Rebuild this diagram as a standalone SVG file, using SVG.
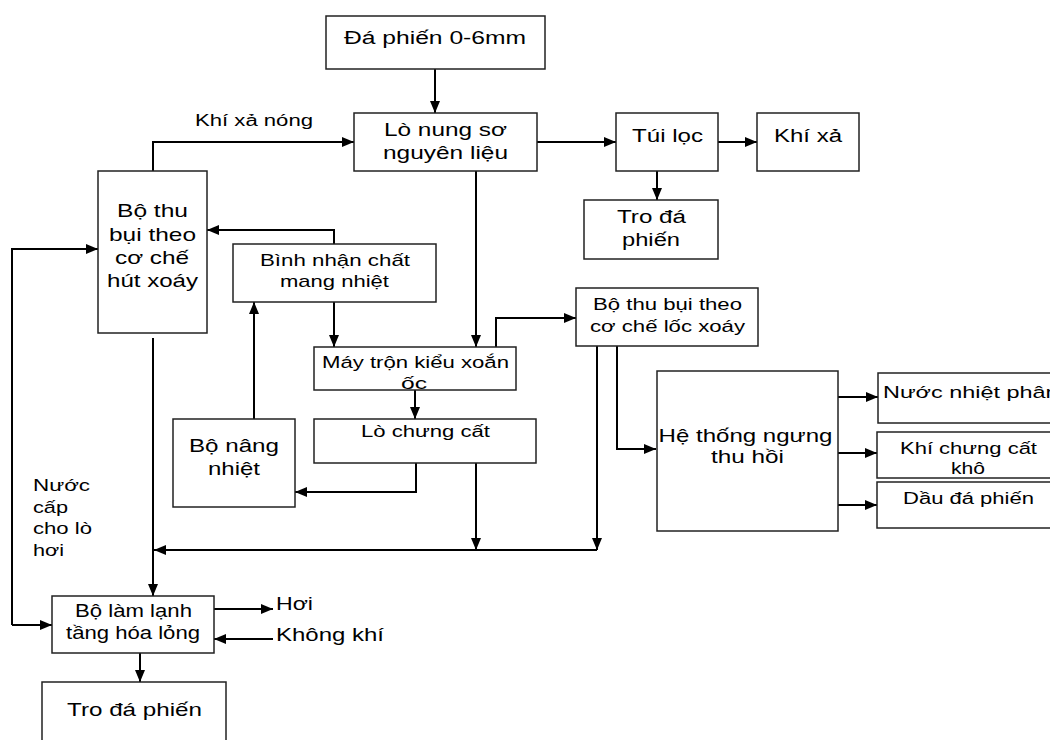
<svg xmlns="http://www.w3.org/2000/svg" width="1050" height="740" viewBox="0 0 1050 740">
<style>
.box{fill:#fff;stroke:#222;stroke-width:1.5}
.t{font-family:"Liberation Sans",Arial,sans-serif;fill:#000;text-anchor:middle}
.c{fill:none;stroke:#000;stroke-width:2}
</style>
<defs>
<marker id="ah" markerUnits="userSpaceOnUse" markerWidth="12" markerHeight="10" refX="12" refY="5" orient="auto">
<path d="M0,0 L12,5 L0,10 z" fill="#000"/>
</marker>
</defs>
<rect width="1050" height="740" fill="#fff"/>
<g id="connectors">
<path class="c" d="M435,69 V113" marker-end="url(#ah)"/>
<path class="c" d="M153,171 V142 H354" marker-end="url(#ah)"/>
<path class="c" d="M537,142 H616" marker-end="url(#ah)"/>
<path class="c" d="M718,142 H757" marker-end="url(#ah)"/>
<path class="c" d="M657,171 V200" marker-end="url(#ah)"/>
<path class="c" d="M334,244 V230 H207" marker-end="url(#ah)"/>
<path class="c" d="M12,625 V249 H98" marker-end="url(#ah)"/>
<path class="c" d="M12,625 H52" marker-end="url(#ah)"/>
<path class="c" d="M254,419 V302" marker-end="url(#ah)"/>
<path class="c" d="M334,302 V347" marker-end="url(#ah)"/>
<path class="c" d="M476,171 V347" marker-end="url(#ah)"/>
<path class="c" d="M496,347 V318 H576" marker-end="url(#ah)"/>
<path class="c" d="M415,390 V419" marker-end="url(#ah)"/>
<path class="c" d="M416,463 V492 H295" marker-end="url(#ah)"/>
<path class="c" d="M476,463 V550" marker-end="url(#ah)"/>
<path class="c" d="M597,346 V550" marker-end="url(#ah)"/>
<path class="c" d="M617,346 V449 H656" marker-end="url(#ah)"/>
<path class="c" d="M597,550 H154" marker-end="url(#ah)"/>
<path class="c" d="M153,338 V596" marker-end="url(#ah)"/>
<path class="c" d="M214,609 H273" marker-end="url(#ah)"/>
<path class="c" d="M273,639 H214" marker-end="url(#ah)"/>
<path class="c" d="M140,653 V682" marker-end="url(#ah)"/>
<path class="c" d="M838,397 H878" marker-end="url(#ah)"/>
<path class="c" d="M836,453 H877" marker-end="url(#ah)"/>
<path class="c" d="M836,505 H877" marker-end="url(#ah)"/>
</g>
<g id="n-da"><rect class="box" x="326" y="16" width="219" height="53"/>
<text class="t" x="435" y="44" font-size="18" textLength="182" lengthAdjust="spacingAndGlyphs">Đá phiến 0-6mm</text></g>
<g id="n-lonung"><rect class="box" x="354" y="113" width="183" height="58"/>
<text class="t" x="445.5" y="135.5" font-size="18" textLength="123" lengthAdjust="spacingAndGlyphs">Lò nung sơ</text>
<text class="t" x="445.5" y="159" font-size="18" textLength="125" lengthAdjust="spacingAndGlyphs">nguyên liệu</text></g>
<g id="n-tuiloc"><rect class="box" x="616" y="113" width="102" height="58"/>
<text class="t" x="667.5" y="141.5" font-size="18" textLength="71" lengthAdjust="spacingAndGlyphs">Túi lọc</text></g>
<g id="n-khixa"><rect class="box" x="757" y="113" width="102" height="58"/>
<text class="t" x="808" y="141.5" font-size="18" textLength="68" lengthAdjust="spacingAndGlyphs">Khí xả</text></g>
<g id="n-tro1"><rect class="box" x="584" y="200" width="134" height="59"/>
<text class="t" x="651.5" y="222.5" font-size="18" textLength="69" lengthAdjust="spacingAndGlyphs">Tro đá</text>
<text class="t" x="651" y="245.5" font-size="18" textLength="58" lengthAdjust="spacingAndGlyphs">phiến</text></g>
<g id="n-bothu"><rect class="box" x="98" y="171" width="109" height="162"/>
<text class="t" x="152.5" y="216.5" font-size="18.5" textLength="71" lengthAdjust="spacingAndGlyphs">Bộ thu</text>
<text class="t" x="152.5" y="240.5" font-size="18.5" textLength="87" lengthAdjust="spacingAndGlyphs">bụi theo</text>
<text class="t" x="152" y="263.5" font-size="18.5" textLength="74" lengthAdjust="spacingAndGlyphs">cơ chế</text>
<text class="t" x="152.5" y="287" font-size="18.5" textLength="91" lengthAdjust="spacingAndGlyphs">hút xoáy</text></g>
<g id="n-binh"><rect class="box" x="233" y="244" width="203" height="58"/>
<text class="t" x="335" y="265.5" font-size="17" textLength="150" lengthAdjust="spacingAndGlyphs">Bình nhận chất</text>
<text class="t" x="334.5" y="287" font-size="17" textLength="109" lengthAdjust="spacingAndGlyphs">mang nhiệt</text></g>
<g id="n-locxoay"><rect class="box" x="576" y="288" width="182" height="58"/>
<text class="t" x="667.5" y="309.5" font-size="16.5" textLength="149" lengthAdjust="spacingAndGlyphs">Bộ thu bụi theo</text>
<text class="t" x="667.5" y="331.5" font-size="16.5" textLength="155" lengthAdjust="spacingAndGlyphs">cơ chế lốc xoáy</text></g>
<g id="n-maytron"><rect class="box" x="314" y="347" width="202" height="43"/>
<text class="t" x="415.5" y="368" font-size="16.3" textLength="187" lengthAdjust="spacingAndGlyphs">Máy trộn kiểu xoắn</text>
<text class="t" x="414" y="388.5" font-size="16.3" textLength="26" lengthAdjust="spacingAndGlyphs">ốc</text></g>
<g id="n-lochung"><rect class="box" x="314" y="419" width="222" height="44"/>
<text class="t" x="425.5" y="436.5" font-size="16" textLength="129" lengthAdjust="spacingAndGlyphs">Lò chưng cất</text></g>
<g id="n-bonang"><rect class="box" x="173" y="419" width="122" height="88"/>
<text class="t" x="234" y="451.5" font-size="18.5" textLength="90" lengthAdjust="spacingAndGlyphs">Bộ nâng</text>
<text class="t" x="234" y="475" font-size="18.5" textLength="52" lengthAdjust="spacingAndGlyphs">nhiệt</text></g>
<g id="n-hethong"><rect class="box" x="657" y="371" width="181" height="160"/>
<text class="t" x="745.5" y="441.5" font-size="19" textLength="174" lengthAdjust="spacingAndGlyphs">Hệ thống ngưng</text>
<text class="t" x="747.5" y="463" font-size="19" textLength="73" lengthAdjust="spacingAndGlyphs">thu hồi</text></g>
<g id="n-nuoc"><rect class="box" x="878" y="373" width="190" height="50"/>
<text class="t" x="974" y="397.5" font-size="16.3" textLength="182" lengthAdjust="spacingAndGlyphs">Nước nhiệt phâm</text></g>
<g id="n-khichung"><rect class="box" x="877" y="432" width="190" height="46"/>
<text class="t" x="968.5" y="454" font-size="16.3" textLength="137" lengthAdjust="spacingAndGlyphs">Khí chưng cất</text>
<text class="t" x="968" y="473.5" font-size="16.3" textLength="34" lengthAdjust="spacingAndGlyphs">khô</text></g>
<g id="n-dau"><rect class="box" x="877" y="482" width="190" height="46"/>
<text class="t" x="968.5" y="504" font-size="16" textLength="131" lengthAdjust="spacingAndGlyphs">Dầu đá phiến</text></g>
<g id="n-bolam"><rect class="box" x="52" y="596" width="162" height="57"/>
<text class="t" x="133.5" y="616.5" font-size="17.5" textLength="117" lengthAdjust="spacingAndGlyphs">Bộ làm lạnh</text>
<text class="t" x="133" y="638.5" font-size="17.5" textLength="134" lengthAdjust="spacingAndGlyphs">tầng hóa lỏng</text></g>
<g id="n-tro2"><rect class="box" x="42" y="682" width="184" height="70"/>
<text class="t" x="134.5" y="715.5" font-size="19" textLength="135" lengthAdjust="spacingAndGlyphs">Tro đá phiến</text></g>
<g id="labels">
<text class="t" x="254" y="125.5" font-size="16" textLength="118" lengthAdjust="spacingAndGlyphs">Khí xả nóng</text>
<text class="t" style="text-anchor:start" x="33" y="491" font-size="16.3" textLength="57" lengthAdjust="spacingAndGlyphs">Nước</text>
<text class="t" style="text-anchor:start" x="33" y="513" font-size="16.3" textLength="35" lengthAdjust="spacingAndGlyphs">cấp</text>
<text class="t" style="text-anchor:start" x="33" y="534" font-size="16.3" textLength="59" lengthAdjust="spacingAndGlyphs">cho lò</text>
<text class="t" style="text-anchor:start" x="33" y="555.5" font-size="16.3" textLength="31" lengthAdjust="spacingAndGlyphs">hơi</text>
<text class="t" style="text-anchor:start" x="276" y="610" font-size="17.5" textLength="37" lengthAdjust="spacingAndGlyphs">Hơi</text>
<text class="t" style="text-anchor:start" x="276" y="641" font-size="17.5" textLength="108" lengthAdjust="spacingAndGlyphs">Không khí</text>
</g>
</svg>
